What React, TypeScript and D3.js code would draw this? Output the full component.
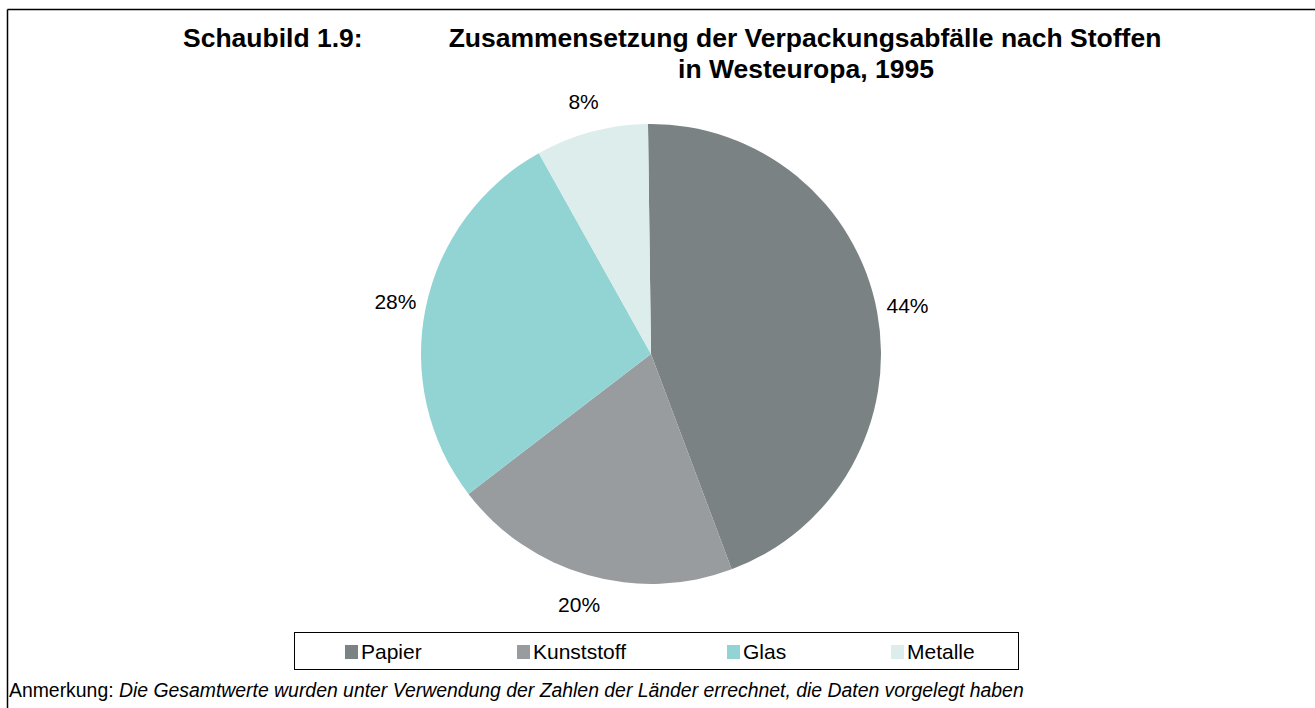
import React from 'react';
import * as d3 from 'd3';

// DATA
const categories = ['Papier', 'Kunststoff', 'Glas', 'Metalle'];
const shares = [44.5, 20.3, 27.3, 7.9];
const labels = ['44%', '20%', '28%', '8%'];
const colors = ['#7b8283', '#989c9e', '#92d4d3', '#ddedeb'];
const legendX = [345, 517, 727, 891];

const W = 1315,
  H = 708;
const cx = 651,
  cy = 354,
  radius = 230,
  labelRadius = 261;
const font = 'Arial, "Liberation Sans", sans-serif';

export default function App() {
  const pie = d3
    .pie<number>()
    .sort(null)
    .value((d) => d)
    .startAngle((-0.75 * Math.PI) / 180)
    .endAngle(2 * Math.PI - (0.75 * Math.PI) / 180);
  const arcs = pie(shares);
  const arc = d3.arc<d3.PieArcDatum<number>>().innerRadius(0).outerRadius(radius);
  const labelArc = d3
    .arc<d3.PieArcDatum<number>>()
    .innerRadius(labelRadius)
    .outerRadius(labelRadius);

  return (
    <div style={{ position: 'absolute', left: 0, top: 0 }}>
      <svg width={W} height={H} style={{ display: 'block', fontFamily: font }}>
        <rect width={W} height={H} fill="#fff" />
        {/* FRAME */}
        <line x1={7.5} y1={9.5} x2={W} y2={9.5} stroke="#000" strokeWidth={1.5} />
        <line x1={7.5} y1={9.5} x2={7.5} y2={H} stroke="#000" strokeWidth={1.5} />

        {/* TITLE */}
        <g fontWeight="bold" fontSize={26.5} fill="#000">
          <text x={183} y={47}>Schaubild 1.9:</text>
          <text x={805} y={47} textAnchor="middle">
            Zusammensetzung der Verpackungsabfälle nach Stoffen
          </text>
          <text x={806} y={78} textAnchor="middle">
            in Westeuropa, 1995
          </text>
        </g>

        {/* PIE */}
        <g transform={`translate(${cx},${cy})`}>
          {arcs.map((a, i) => (
            <path key={categories[i]} d={arc(a) || ''} fill={colors[i]} />
          ))}
          {arcs.map((a, i) => {
            const [x, y] = labelArc.centroid(a);
            return (
              <text
                key={labels[i]}
                x={x}
                y={y}
                dy="0.35em"
                textAnchor="middle"
                fontSize={21}
                fill="#000"
              >
                {labels[i]}
              </text>
            );
          })}
        </g>

        {/* LEGEND */}
        <rect x={294.5} y={632.5} width={724} height={37} fill="none" stroke="#000" strokeWidth={1} />
        {categories.map((c, i) => (
          <g key={c}>
            <rect x={legendX[i]} y={645} width={13} height={14} fill={colors[i]} />
            <text x={legendX[i] + 16} y={659} fontSize={21} fill="#000">
              {c}
            </text>
          </g>
        ))}

        {/* FOOTNOTE */}
        <text x={9} y={697} fontSize={19.4} fill="#000">
          Anmerkung:{' '}
          <tspan fontStyle="italic">
            Die Gesamtwerte wurden unter Verwendung der Zahlen der Länder errechnet, die Daten vorgelegt haben
          </tspan>
        </text>
      </svg>
    </div>
  );
}
